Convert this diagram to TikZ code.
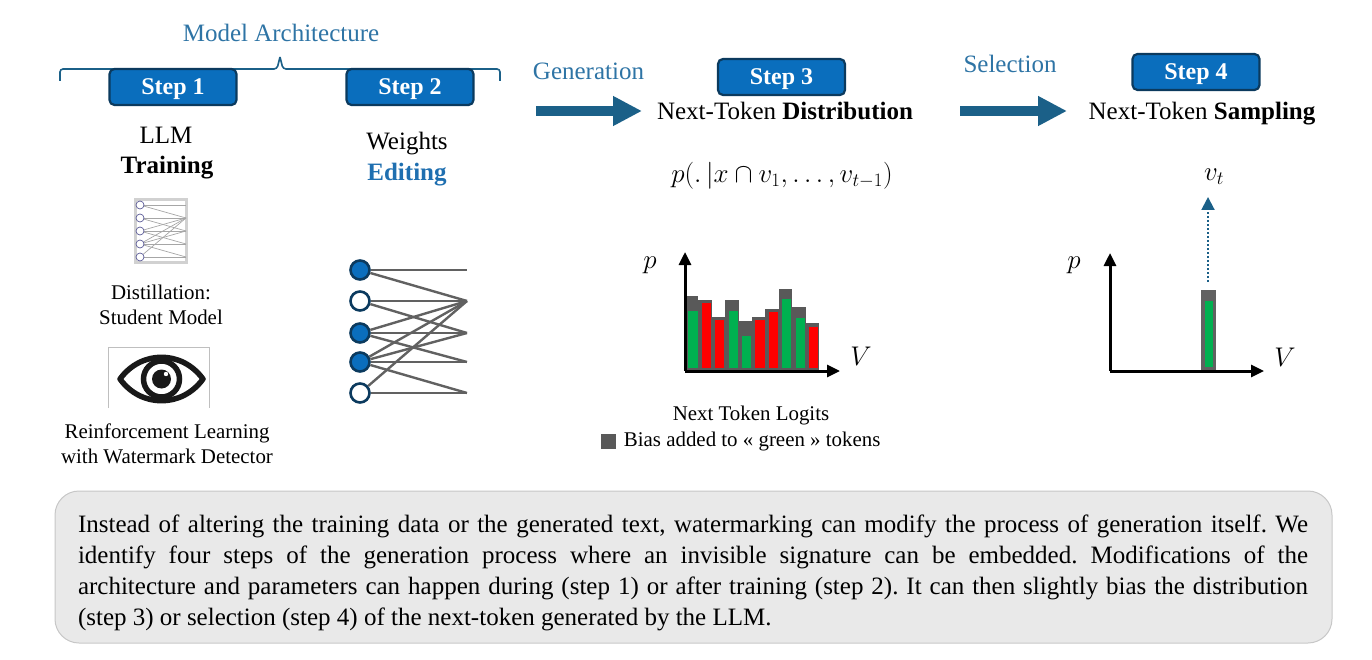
\documentclass[tikz,border=0pt]{standalone}
\usepackage{fix-cm}
\usepackage{fontspec}
\setmainfont{Liberation Serif}
\usetikzlibrary{arrows.meta, positioning, calc}
\definecolor{stepblue}{HTML}{0A6EBD}
\definecolor{stepedge}{HTML}{0B3A5E}
\definecolor{teal}{HTML}{1B6088}
\definecolor{headblue}{HTML}{2E74A5}
\definecolor{editblue}{HTML}{1F6FB0}
\definecolor{bargray}{HTML}{595959}
\definecolor{bargreen}{HTML}{00B050}
\definecolor{barred}{HTML}{FF0000}
\definecolor{panelgray}{HTML}{E9E9E9}
\tikzset{
    stepbox/.style={draw=stepedge, line width=2.2pt, fill=stepblue, rounded corners=5pt, minimum width=127pt, minimum height=36pt, inner sep=0pt, text=white, text height=16pt, text depth=1pt, font=\fontsize{24}{27}\selectfont\bfseries},
    biglabel/.style={inner sep=0pt, font=\fontsize{25}{29}\selectfont},
    boldlabel/.style={biglabel, font=\fontsize{25}{29}\selectfont\bfseries},
    mathlabel/.style={inner sep=0pt, font=\fontsize{27}{31}\selectfont},
    smalllabel/.style={inner sep=0pt, font=\fontsize{20.9}{25}\selectfont, align=center},
    axis/.style={-{Triangle[length=13pt,width=12pt]}, line width=3pt, black},
    bigarrow/.style={-{Triangle[length=29pt,width=28pt]}, line width=10pt, teal},
    netline/.style={draw=black!62, line width=2.4pt},
    bignode/.style={circle, draw=stepedge, line width=2.6pt, minimum size=19pt, inner sep=0pt},
    smallnode/.style={circle, draw=black!20!blue!30!gray, line width=0.7pt, fill=white, minimum size=8pt, inner sep=0pt},
}
\begin{document}
\frenchspacing
\begin{tikzpicture}[x=1pt, y=-1pt]
    \useasboundingbox (0,0) rectangle (1372,660);

    % model architecture bracket
    \node[biglabel, text=headblue] (arch) at (281,33) {Model Architecture};
    \draw[teal, line width=1.6pt, rounded corners=3pt] (60,81) -- (60,69) -- (277,69) -- (280,57);
    \draw[teal, line width=1.6pt, rounded corners=3pt] (280,57) -- (283,69) -- (500,69) -- (500,81);

    \node[stepbox] (step1) at (173,87) {Step 1};
    \node[stepbox] (step2) at (410,87) {Step 2};
    \node[stepbox] (step3) at (781.5,77) {Step 3};
    \node[stepbox] (step4) at (1196,72) {Step 4};

    % step 1
    \node[biglabel] (llm) at (166,135) {LLM};
    \node[boldlabel] (training) at (167,168) {Training};

    \node[draw=black!18, line width=2.2pt, minimum width=51pt, minimum height=63pt, inner sep=0pt] (smallframe) at (161,231) {};
    \foreach \i/\y in {1/205, 2/218, 3/231, 4/244, 5/257} {
        \coordinate (sr\i) at (186,\y);
    }
    \foreach \a/\b in {1/1, 1/2, 2/2, 2/3, 3/2, 3/3, 3/4, 4/2, 4/3, 4/4, 4/5, 5/2, 5/5} {
        \draw[black!35, line width=0.7pt] (140,{192+13*\a}) -- (sr\b);
    }
    \foreach \i/\y in {1/205, 2/218, 3/231, 4/244, 5/257} {
        \node[smallnode] (sn\i) at (140,\y) {};
    }
    \node[smalllabel] (distill) at (161,305) {Distillation:\\Student Model};

    % eye icon
    \draw[black!25, line width=0.8pt] (108.5,408) -- (108.5,347.5) -- (209,347.5) -- (209,408);
    \draw[black!90, line width=5.5pt, line join=round] (120,379) .. controls (141,350) and (182,350) .. (203,379) .. controls (182,408) and (141,408) .. (120,379) -- cycle;
    \draw[black!90, line width=5.5pt] (161.5,379) circle (18pt);
    \fill[black!90] (161.5,379) circle (9.5pt);
    \fill[white] (166,374) circle (2.2pt);
    \node[smalllabel] (rl) at (167,444) {Reinforcement Learning\\with Watermark Detector};

    % step 2
    \node[biglabel] (weights) at (407,144) {Weights};
    \node[boldlabel, text=editblue] (editing) at (407,175) {Editing};

    \foreach \i/\y in {1/270, 2/301, 3/333, 4/362, 5/393} {
        \coordinate (r\i) at (467,\y);
    }
    \foreach \i/\y/\c in {1/270/stepblue, 2/301/white, 3/333/stepblue, 4/362/stepblue, 5/393/white} {
        \node[bignode, fill=\c] (n\i) at (360,\y) {};
    }
    \foreach \a/\b in {1/1, 1/2, 2/2, 2/3, 3/2, 3/3, 3/4, 4/2, 4/3, 4/4, 4/5, 5/2, 5/5} {
        \path[netline] (n\a) -- (r\b);
    }

    % generation
    \node[biglabel, text=headblue] (generation) at (588.5,71) {Generation};
    \coordinate (genstart) at (536,111);
    \coordinate (genend) at (642,111);
    \draw[bigarrow] (genstart) -- (genend);
    \node[biglabel] (nextdist) at (785,111) {Next-Token \textbf{Distribution}};
    \node[mathlabel] (formula) at (782,176) {$p(.\,|x\cap v_1,\ldots,v_{t-1})$};

    % step 3 chart
    \foreach \i/\g/\t/\c in {0/296/311/bargreen, 1/300/303/barred, 2/317/320/barred, 3/300/311/bargreen, 4/321/336/bargreen, 5/317/320/barred, 6/309/312/barred, 7/289/299/bargreen, 8/307/318/bargreen, 9/323/327/barred} {
        \fill[bargray] ({685+13.4*\i},\g) rectangle ({685+13.4*(\i+1)},371);
        \fill[\c] ({688.4+13.4*\i},\t) rectangle ({697.6+13.4*\i},367.5);
    }
    \coordinate (origa) at (685,371);
    \coordinate (topa) at (685,252);
    \coordinate (enda) at (840,371);
    \draw[axis] (origa) -- (topa);
    \draw[axis] (origa) -- (enda);
    \node[mathlabel] (pa) at (650,265) {$p$};
    \node[mathlabel] (va) at (861,356) {$V$};
    \node[smalllabel] (logits) at (751,416) {Next Token Logits};
    \node[fill=bargray, minimum size=15pt, inner sep=0pt] (legend) at (608,441.5) {};
    \node[smalllabel, right=8pt of legend] (biastext) {Bias added to « green » tokens};

    % selection
    \node[biglabel, text=headblue] (selection) at (1010,64) {Selection};
    \coordinate (selstart) at (960,111);
    \coordinate (selend) at (1067,111);
    \draw[bigarrow] (selstart) -- (selend);
    \node[biglabel] (nextsamp) at (1202,114) {Next-Token \textbf{Sampling}};

    % step 4 chart
    \fill[black!62] (1201,290) rectangle (1216,371);
    \fill[bargreen] (1204.5,301) rectangle (1213,367);
    \coordinate (origb) at (1110,371);
    \coordinate (topb) at (1110,253);
    \coordinate (endb) at (1264,371);
    \draw[axis] (origb) -- (topb);
    \draw[axis] (origb) -- (endb);
    \coordinate (dotstart) at (1208,282);
    \coordinate (dotend) at (1208,197);
    \draw[-{Triangle[length=13pt,width=13pt]}, teal, line width=2pt, dotted] (dotstart) -- (dotend);
    \node[mathlabel] (pb) at (1074,265) {$p$};
    \node[mathlabel] (vb) at (1285,357) {$V$};
    \node[mathlabel] (vt) at (1214,177) {$v_t$};

    % caption panel
    \node[draw=black!22, line width=1pt, fill=panelgray, rounded corners=24pt, minimum width=1277pt, minimum height=152pt, inner sep=0pt] (panel) at (693.5,567) {};
    \node[text width=1230pt, inner sep=0pt, align=justify, font=\fontsize{25}{30.8}\selectfont] (captext) at (693,573) {Instead of altering the training data or the generated text, watermarking can modify the process of generation itself. We\linebreak identify four steps of the generation process where an invisible signature can be embedded. Modifications of the\linebreak architecture and parameters can happen during (step 1) or after training (step 2). It can then slightly bias the distribution\linebreak (step 3) or selection (step 4) of the next-token generated by the LLM.};
\end{tikzpicture}
\end{document}
